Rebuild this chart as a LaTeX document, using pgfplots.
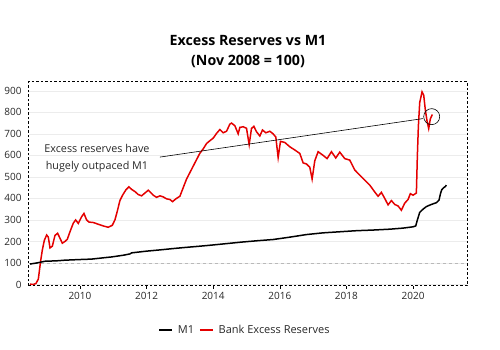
\documentclass[border=0pt]{standalone}
\usepackage{pgfplots}
\pgfplotsset{compat=1.18}
\usepackage{fontspec}
\setmainfont{Open Sans}
\definecolor{serred}{RGB}{228,0,0}
\definecolor{gridgray}{RGB}{236,236,236}
\definecolor{txt}{RGB}{40,40,40}
\begin{document}
\begin{tikzpicture}
\begin{axis}[
  at={(0,0)}, anchor=south west,
  scale only axis, width=438pt, height=204pt,
  xmin=2008.47, xmax=2021.62, ymin=-7, ymax=941,
  xtick={2010,2012,2014,2016,2018,2020},
  ytick={0,100,...,900},
  xticklabel style={/pgf/number format/1000 sep={}},
  /pgf/number format/assume math mode=true,
  ticklabel style={font=\fontsize{10}{12}\selectfont, text=txt},
  xtick pos=bottom, ytick pos=left,
  tick align=outside,
  major tick length=3pt,
  xtick style={black, solid},
  ytick style={draw=none},
  yticklabel style={xshift=-1pt},
  ymajorgrids, grid style={gridgray, line width=0.6pt, solid},
  axis line style={draw=none},
  legend style={at={(0.493,-0.216)}, anchor=center, draw=none, fill=none,
    font=\fontsize{11}{13}\selectfont, text=txt, column sep=3pt},
  legend columns=2,
  legend image code/.code={\draw[#1, line width=1.6pt] (0pt,0pt) -- (13pt,0pt);},
  clip=false,
]
\addplot[gray!55, dashed, line width=0.9pt, forget plot] coordinates {(2008.47,100) (2021.62,100)};
\addplot[serred, line width=1.5pt, forget plot] coordinates {
(2008.50,2) (2008.60,0) (2008.68,5) (2008.75,25) (2008.82,110) (2008.87,160) (2008.93,205) (2009.00,230) (2009.05,220) (2009.10,170) (2009.17,178) (2009.25,228) (2009.33,238) (2009.40,215) (2009.47,192) (2009.55,200) (2009.62,210) (2009.70,245) (2009.80,285) (2009.87,300) (2009.95,284) (2010.05,315) (2010.12,330) (2010.20,300) (2010.27,290) (2010.40,288) (2010.55,280) (2010.70,272) (2010.85,266) (2010.97,275) (2011.05,300) (2011.12,340) (2011.20,390) (2011.28,415) (2011.38,440) (2011.47,454) (2011.55,442) (2011.65,432) (2011.75,418) (2011.85,412) (2011.95,425) (2012.05,438) (2012.12,428) (2012.20,415) (2012.30,405) (2012.40,412) (2012.50,407) (2012.60,398) (2012.70,395) (2012.78,385) (2012.88,398) (2013.00,410) (2013.10,450) (2013.20,490) (2013.30,520) (2013.40,550) (2013.50,580) (2013.60,610) (2013.70,630) (2013.80,655) (2013.90,668) (2014.00,680) (2014.10,702) (2014.20,720) (2014.30,705) (2014.40,712) (2014.50,745) (2014.55,750) (2014.65,738) (2014.75,700) (2014.80,730) (2014.90,733) (2015.00,726) (2015.08,650) (2015.15,725) (2015.22,735) (2015.30,710) (2015.40,690) (2015.48,718) (2015.58,705) (2015.70,712) (2015.80,700) (2015.88,685) (2015.95,590) (2016.02,665) (2016.15,660) (2016.30,640) (2016.45,625) (2016.60,609) (2016.70,565) (2016.80,560) (2016.90,545) (2016.97,490) (2017.05,575) (2017.15,617) (2017.30,600) (2017.42,585) (2017.55,617) (2017.68,588) (2017.80,615) (2017.95,585) (2018.10,578) (2018.25,532) (2018.40,508) (2018.55,485) (2018.70,462) (2018.85,430) (2018.95,410) (2019.05,428) (2019.15,400) (2019.25,370) (2019.35,390) (2019.45,372) (2019.55,365) (2019.65,345) (2019.75,378) (2019.85,395) (2019.92,422) (2020.00,415) (2020.10,425) (2020.13,600) (2020.16,735) (2020.20,845) (2020.27,895) (2020.32,880) (2020.37,810) (2020.42,760) (2020.47,725) (2020.52,770) (2020.58,790)
};
\addplot[black, line width=1.5pt] coordinates {
(2008.50,95) (2008.70,100) (2008.95,108) (2009.30,110) (2009.55,113) (2010.00,116) (2010.35,118) (2010.70,124) (2010.95,128) (2011.30,136) (2011.50,142) (2011.55,147) (2012.00,155) (2012.35,160) (2012.80,167) (2013.15,172) (2013.60,178) (2013.95,183) (2014.40,190) (2014.85,197) (2015.30,203) (2015.80,209) (2016.30,220) (2016.80,232) (2017.30,240) (2017.80,245) (2018.30,250) (2018.80,253) (2019.30,257) (2019.70,262) (2020.00,268) (2020.08,272) (2020.13,300) (2020.20,335) (2020.30,350) (2020.40,362) (2020.55,372) (2020.70,380) (2020.78,392) (2020.82,420) (2020.86,440) (2020.92,450) (2020.97,455) (2021.00,462)
};
\addlegendentry{M1}
\addlegendimage{serred}
\addlegendentry{Bank Excess Reserves}
\draw[black, line width=1pt, dash pattern=on 2.5pt off 2pt] (rel axis cs:0,0) rectangle (rel axis cs:1,1);
\draw[black, line width=0.6pt] (axis cs:2012.4,592) -- (axis cs:2020.3,771);
\draw[black, line width=0.6pt] (axis cs:2020.56,780) circle[radius=8pt];
\node[align=center, font=\fontsize{10.8}{16.5}\selectfont, text=txt] at (axis cs:2010.51,587) {Excess reserves have\\hugely outpaced M1};
\end{axis}
\node[font=\bfseries\fontsize{14.2}{17}\selectfont, text=black] at (219pt,245.5pt) {Excess Reserves vs M1};
\node[font=\bfseries\fontsize{14.2}{17}\selectfont, text=black] at (219pt,225pt) {(Nov 2008 = 100)};
\path[use as bounding box] (-29pt,-64pt) rectangle (471pt,286pt);
\end{tikzpicture}
\end{document}
